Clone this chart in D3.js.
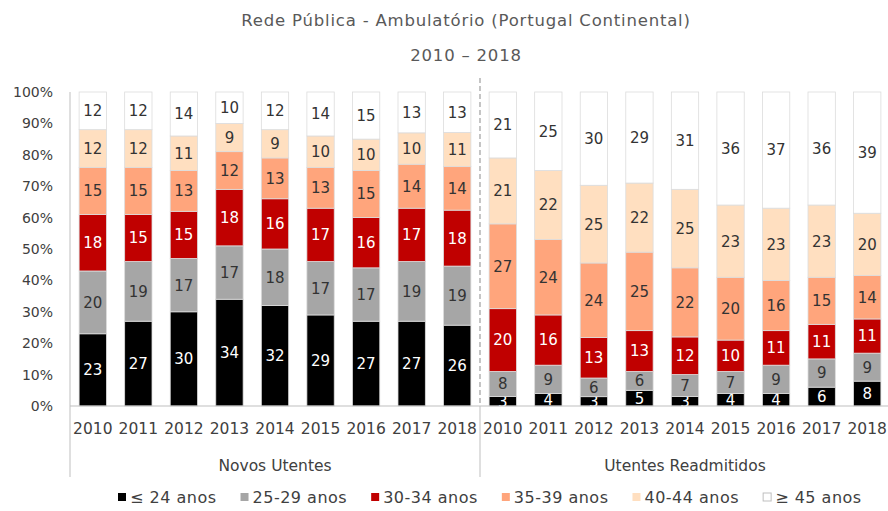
<!DOCTYPE html>
<html>
<head>
<meta charset="utf-8">
<script src="https://cdn.jsdelivr.net/npm/d3@7"></script>
<style>
  body { margin: 0; background: #fff; }
  svg { font-family: "DejaVu Sans", sans-serif; }
</style>
</head>
<body>
<div class="container"></div>
<script>
var groups = ['Novos Utentes', 'Utentes Readmitidos'];
var years = ['2010', '2011', '2012', '2013', '2014', '2015', '2016', '2017', '2018'];
var ageClasses = ['≤ 24 anos', '25-29 anos', '30-34 anos', '35-39 anos', '40-44 anos', '≥ 45 anos'];
var colors = ['#000000', '#a6a6a6', '#c00000', '#ffa57c', '#ffdfc0', '#ffffff'];
var labelColors = ['#fff', '#333', '#fff', '#333', '#333', '#333'];

// one array per age class, 9 years each
var novos = [
  [23, 27, 30, 34, 32, 29, 27, 27, 26],
  [20, 19, 17, 17, 18, 17, 17, 19, 19],
  [18, 15, 15, 18, 16, 17, 16, 17, 18],
  [15, 15, 13, 12, 13, 13, 15, 14, 14],
  [12, 12, 11, 9, 9, 10, 10, 10, 11],
  [12, 12, 14, 10, 12, 14, 15, 13, 13]
];
var readmitidos = [
  [3, 4, 3, 5, 3, 4, 4, 6, 8],
  [8, 9, 6, 6, 7, 7, 9, 9, 9],
  [20, 16, 13, 13, 12, 10, 11, 11, 11],
  [27, 24, 24, 25, 22, 20, 16, 15, 14],
  [21, 22, 25, 22, 25, 23, 23, 23, 20],
  [21, 25, 30, 29, 31, 36, 37, 36, 39]
];
var yTicks = [0, 0.1, 0.2, 0.3, 0.4, 0.5, 0.6, 0.7, 0.8, 0.9, 1];

var width = 888, height = 511;
var plotLeft = 70, plotRight = 890, plotTop = 92, plotBottom = 406;

// build rows
var rows = [];
[novos, readmitidos].forEach(function (src, g) {
  years.forEach(function (y, i) {
    var row = { key: g + '-' + y, year: y, group: g };
    ageClasses.forEach(function (a, k) { row[a] = src[k][i]; });
    rows.push(row);
  });
});

var svg = d3.select('.container').append('svg')
  .attr('width', width)
  .attr('height', height);

var x = d3.scaleBand()
  .domain(rows.map(function (d) { return d.key; }))
  .range([plotLeft, plotRight])
  .paddingInner(0.4)
  .paddingOuter(0.2);

var y = d3.scaleLinear().domain([0, 1]).range([plotBottom, plotTop]);

var series = d3.stack().keys(ageClasses).offset(d3.stackOffsetExpand)(rows);

// title
svg.append('text')
  .attr('x', 466).attr('y', 26)
  .attr('text-anchor', 'middle')
  .attr('fill', '#595959')
  .style('font-size', '16.5px')
  .style('letter-spacing', '0.8px')
  .text('Rede Pública - Ambulatório (Portugal Continental)');
svg.append('text')
  .attr('x', 466).attr('y', 61)
  .attr('text-anchor', 'middle')
  .attr('fill', '#595959')
  .style('font-size', '16.5px')
  .style('letter-spacing', '0.8px')
  .text('2010 – 2018');

// y axis labels
svg.append('g').selectAll('text')
  .data(yTicks)
  .enter().append('text')
    .attr('x', 53)
    .attr('y', function (d) { return y(d); })
    .attr('dy', '0.36em')
    .attr('text-anchor', 'end')
    .attr('fill', '#404040')
    .style('font-size', '14px')
    .text(d3.format('.0%'));

// bars
var layer = svg.append('g').selectAll('g')
  .data(series)
  .enter().append('g')
    .attr('fill', function (d, i) { return colors[i]; });

layer.selectAll('rect')
  .data(function (d) { return d; })
  .enter().append('rect')
    .attr('x', function (d) { return x(d.data.key); })
    .attr('width', x.bandwidth())
    .attr('y', function (d) { return y(d[1]); })
    .attr('height', function (d) { return y(d[0]) - y(d[1]); })
    .attr('stroke', '#dcdcdc')
    .attr('stroke-width', 0.8);

// labels
layer.each(function (s, i) {
  d3.select(this).selectAll('text')
    .data(s)
    .enter().append('text')
      .attr('x', function (d) { return x(d.data.key) + x.bandwidth() / 2; })
      .attr('y', function (d) { return (y(d[0]) + y(d[1])) / 2; })
      .attr('dy', '0.36em')
      .attr('text-anchor', 'middle')
      .attr('fill', labelColors[i])
      .style('font-size', '15px')
      .text(function (d) { return d.data[s.key]; });
});

// axes and separators
var axisColor = '#bfbfbf';
svg.append('line')
  .attr('x1', plotLeft).attr('x2', 888)
  .attr('y1', plotBottom).attr('y2', plotBottom)
  .attr('stroke', axisColor);
var mid = x(rows[years.length].key) - x.step() * x.paddingInner() / 2;
svg.append('line')
  .attr('x1', plotLeft).attr('x2', plotLeft)
  .attr('y1', plotTop).attr('y2', 477)
  .attr('stroke', axisColor);
svg.append('line')
  .attr('x1', mid).attr('x2', mid)
  .attr('y1', plotBottom).attr('y2', 477)
  .attr('stroke', axisColor);
svg.append('line')
  .attr('x1', mid).attr('x2', mid)
  .attr('y1', 78).attr('y2', plotBottom)
  .attr('stroke', '#a6a6a6')
  .attr('stroke-width', 1.3)
  .attr('stroke-dasharray', '5,3');

// year labels
svg.append('g').selectAll('text')
  .data(rows)
  .enter().append('text')
    .attr('x', function (d) { return x(d.key) + x.bandwidth() / 2; })
    .attr('y', 434)
    .attr('text-anchor', 'middle')
    .attr('fill', '#404040')
    .style('font-size', '15.5px')
    .text(function (d) { return d.year; });

// group labels
svg.append('g').selectAll('text')
  .data(groups)
  .enter().append('text')
    .attr('x', function (d, g) { return g === 0 ? (plotLeft + mid) / 2 : (mid + plotRight) / 2; })
    .attr('y', 471)
    .attr('text-anchor', 'middle')
    .attr('fill', '#404040')
    .style('font-size', '15.5px')
    .text(function (d) { return d; });

// legend
var legend = svg.append('g').attr('transform', 'translate(0,497)');
var lx = 118;
ageClasses.forEach(function (a, i) {
  legend.append('rect')
    .attr('x', lx).attr('y', -4)
    .attr('width', 8).attr('height', 8)
    .attr('fill', colors[i])
    .attr('stroke', i === 5 ? '#bfbfbf' : 'none');
  var t = legend.append('text')
    .attr('x', lx + 12).attr('y', 0)
    .attr('dy', '0.36em')
    .attr('fill', '#404040')
    .style('font-size', '16px')
    .style('letter-spacing', '0.5px')
    .text(a);
  lx += 12 + t.node().getComputedTextLength() + 24;
});
</script>
</body>
</html>
